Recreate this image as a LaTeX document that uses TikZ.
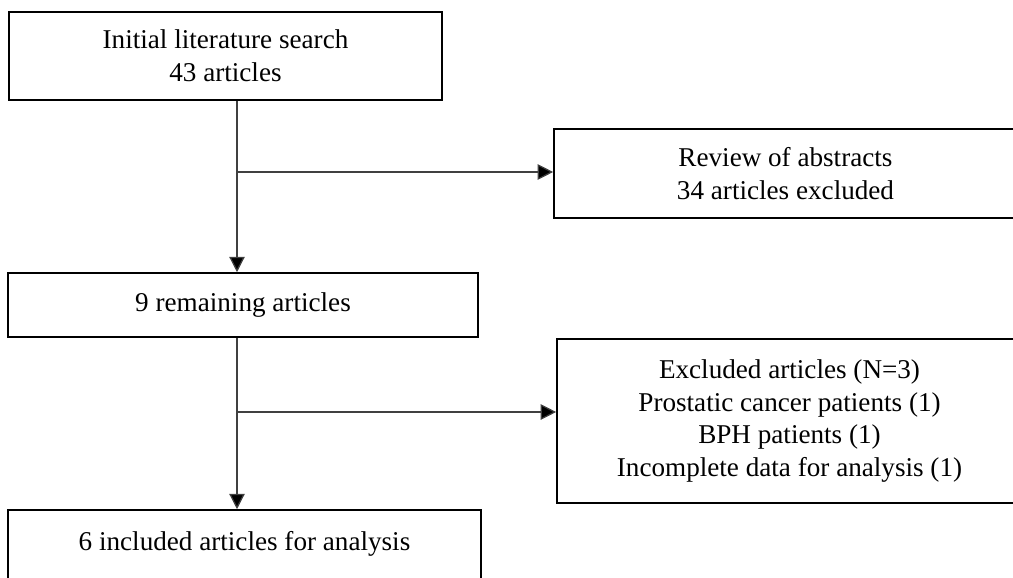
\documentclass[tikz,border=0pt]{standalone}
\usepackage{fontspec}
\setmainfont{Liberation Serif}
\usetikzlibrary{arrows.meta}
\begin{document}
\begin{tikzpicture}[x=0.025cm, y=-0.025cm,
        box/.style={rectangle, draw, line width=1.1pt, align=center, inner sep=0pt, font=\fontsize{19.3}{23.4}\selectfont},
        arr/.style={line width=0.9pt, draw=black!75, -{Triangle[length=11pt, width=11pt, fill=black]}}
    ]
        \path[use as bounding box, clip] (0,0) rectangle (1013,578);

        \node[box, minimum width=10.825cm, minimum height=2.2cm] (init) at (225.5,56) {Initial literature search\\43 articles};
        \node[box, minimum width=11.575cm, minimum height=2.225cm] (review) at (785.5,173.5) {Review of abstracts\\34 articles excluded};
        \node[box, minimum width=11.75cm, minimum height=1.6cm] (remain) at (243,305) {9 remaining articles};
        \node[box, minimum width=11.625cm, minimum height=4.1cm] (excl) at (789.5,421) {Excluded articles (N=3)\\
        Prostatic cancer patients (1)\\
        BPH patients (1)\\
        Incomplete data for analysis (1)};
        \node[box, minimum width=11.825cm, text height=1cm, text depth=1cm] (incl) at (244.5,550) {6 included articles for analysis};

        \coordinate (b1) at (237,172);
        \coordinate (b2) at (237,412);

        \draw[arr] (b1 |- init.south) -- (b1 |- remain.north);
        \draw[arr] (b1) -- (b1 -| review.west);
        \draw[arr] (b2 |- remain.south) -- (b2 |- incl.north);
        \draw[arr] (b2) -- (b2 -| excl.west);
    \end{tikzpicture}
\end{document}
